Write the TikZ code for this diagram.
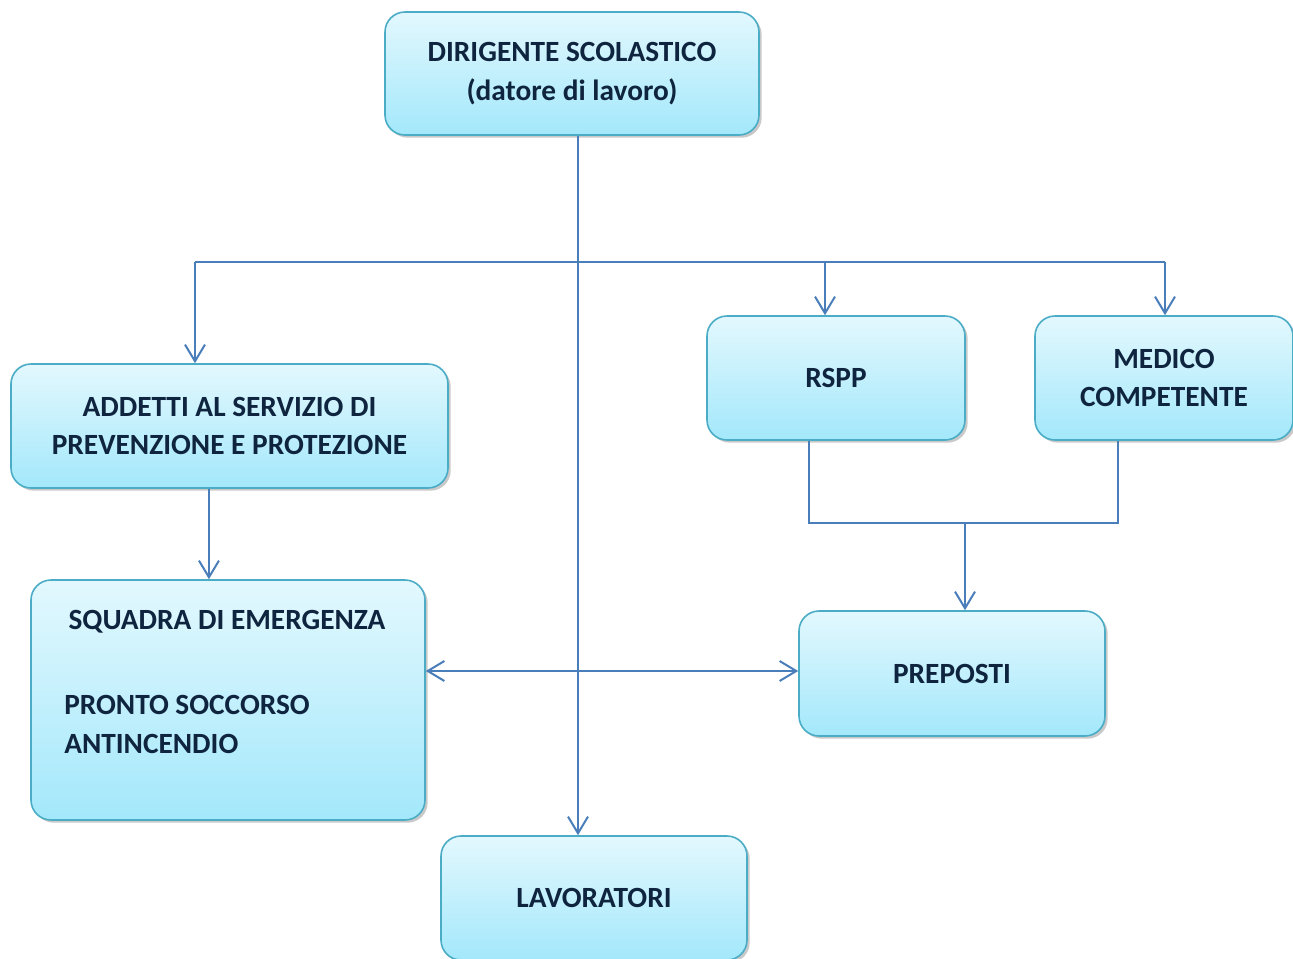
\documentclass[tikz,border=0pt]{standalone}
\usepackage{fontspec}
\setmainfont{Carlito}
\usetikzlibrary{arrows.meta,shadows}

\definecolor{boxtop}{HTML}{E3F8FE}
\definecolor{boxbot}{HTML}{A3E8FB}
\definecolor{boxline}{HTML}{4BACC6}
\definecolor{conn}{HTML}{4A7EBB}
\definecolor{txt}{HTML}{0F243E}

\begin{document}
\begin{tikzpicture}[x=0.75pt, y=-0.75pt,
  every node/.style={font=\fontsize{22}{29}\selectfont\bfseries, text=txt},
  box/.style={draw=boxline, line width=1.2pt, rounded corners=15pt, top color=boxtop, bottom color=boxbot, inner sep=0pt, align=center,
    drop shadow={shadow xshift=2pt, shadow yshift=-2pt, opacity=0.3, fill=black!70}},
  link/.style={draw=conn, line width=1.5pt},
  tip/.style={-{Straight Barb[length=12.5pt, width=15pt]}}]
  \useasboundingbox (0,0) rectangle (1293,958);

  % boxes
  \node[box, minimum width=280.5pt, minimum height=92.25pt] (dir) at (572,73.5) {DIRIGENTE SCOLASTICO\\(datore di lavoro)};
  \node[box, minimum width=327.75pt, minimum height=93pt] (add) at (229.5,426) {ADDETTI AL SERVIZIO DI\\PREVENZIONE E PROTEZIONE};
  \node[box, minimum width=295.5pt, minimum height=180pt] (sq) at (228,700) {};
  \node[box, minimum width=193.5pt, minimum height=93pt] (rspp) at (836,378) {RSPP};
  \node[box, minimum width=193.5pt, minimum height=93pt] (med) at (1164,378) {MEDICO\\COMPETENTE};
  \node[box, minimum width=229.5pt, minimum height=93.75pt] (prep) at (952,673.5) {PREPOSTI};
  \node[box, minimum width=229.5pt, minimum height=93pt] (lav) at (594,898) {LAVORATORI};

  % text of the squadra box
  \node (sqt) at (227,622) {SQUADRA DI EMERGENZA};
  \node[anchor=west, inner sep=0pt, align=left] (sqs) at (64,724.5) {PRONTO SOCCORSO\\ANTINCENDIO};

  % connectors
  \coordinate (spine) at (578,262);
  \coordinate (hl) at (195,262);
  \coordinate (hm) at (825,262);
  \coordinate (hr) at (1165,262);
  \coordinate (join) at (965,523);
  \coordinate (mid) at (578,671);

  \draw[link, tip] (spine |- dir.south) -- (spine |- lav.north);
  \draw[link] (hl) -- (hr);
  \draw[link, tip] (hl) -- (hl |- add.north);
  \draw[link, tip] (hm) -- (hm |- rspp.north);
  \draw[link, tip] (hr) -- (hr |- med.north);
  \draw[link, tip] ([xshift=-15.4pt]add.south) -- ([xshift=-15.4pt]add.south |- sq.north);
  \draw[link] ([xshift=-20.25pt]rspp.south) |- (join);
  \draw[link] ([xshift=-34.5pt]med.south) |- (join);
  \draw[link, tip] (join) -- (join |- prep.north);
  \draw[link, {Straight Barb[length=12.5pt, width=15pt]}-{Straight Barb[length=12.5pt, width=15pt]}] (mid -| sq.east) -- (mid -| prep.west);
\end{tikzpicture}
\end{document}
